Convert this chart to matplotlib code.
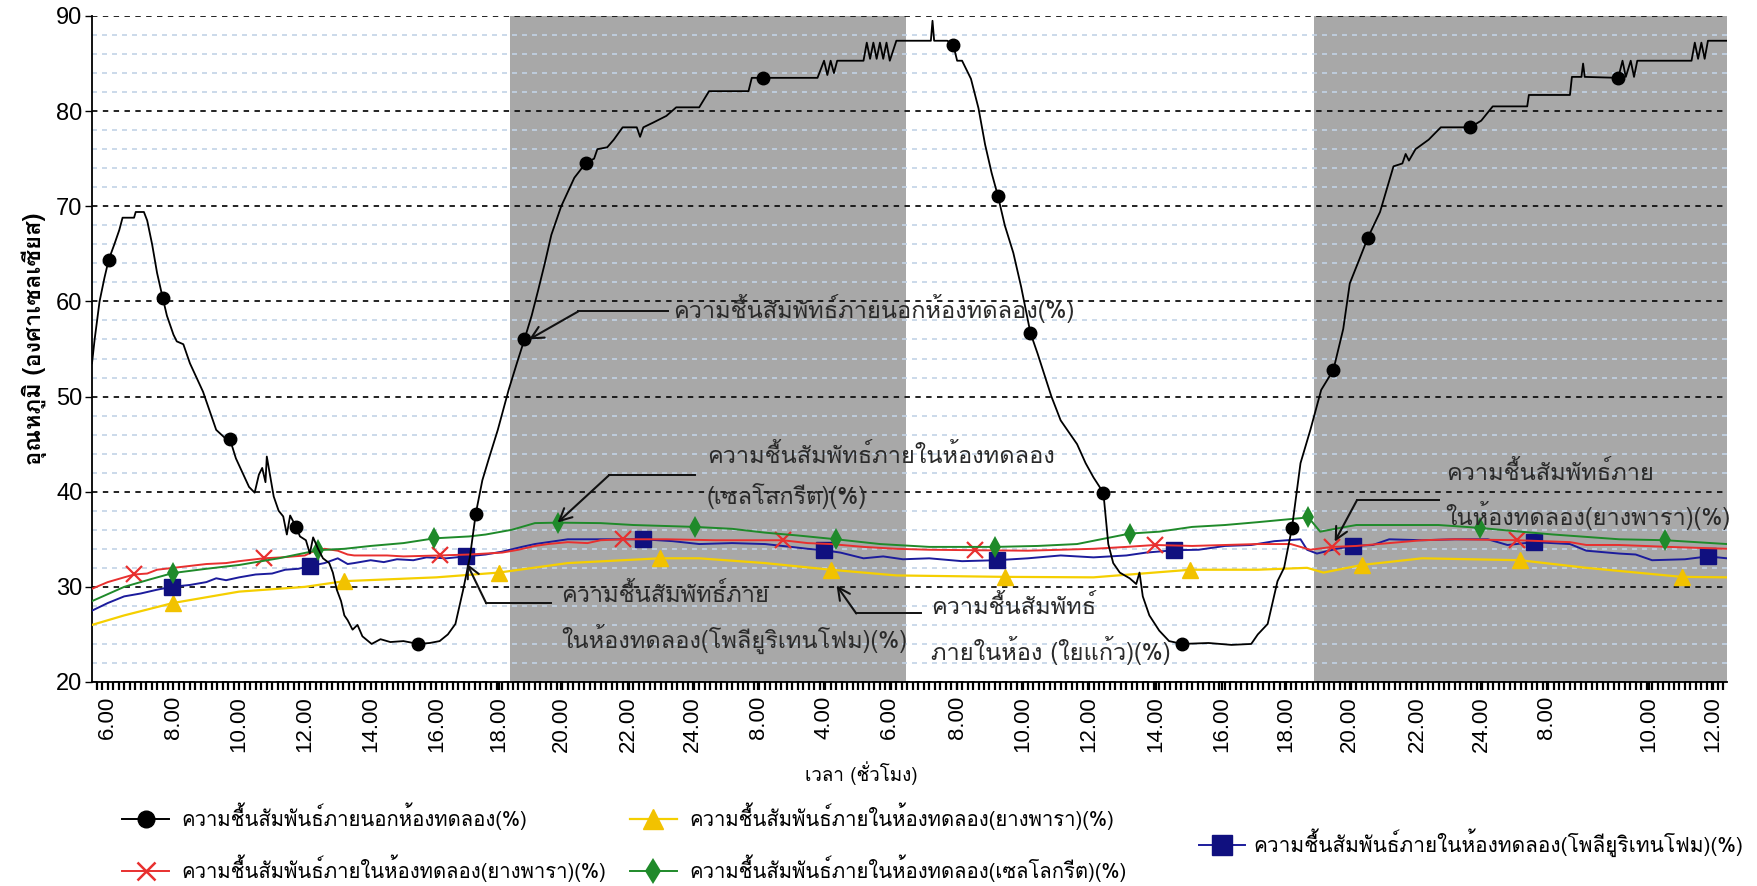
import numpy as np
import matplotlib
matplotlib.use("Agg")
import matplotlib.pyplot as plt
from matplotlib import font_manager
from matplotlib.ft2font import FT2Font
from matplotlib.lines import Line2D
from matplotlib.ticker import MultipleLocator, FixedLocator

# ---------------------------------------------------------------- fonts
def find_thai_family():
    for f in font_manager.fontManager.ttflist:
        try:
            if 0x0E04 in FT2Font(f.fname).get_charmap():
                return f.name
        except Exception:
            pass
    return None

THAI = find_thai_family()
FAMILY = [THAI, "Liberation Sans", "DejaVu Sans"] if THAI else ["Liberation Sans", "DejaVu Sans"]
plt.rcParams["font.family"] = FAMILY

# ---------------------------------------------------------------- data
# time axis in hours counted from midnight of the first day
tick_pos = [6.0, 8.0, 10.0, 12.0, 14.0, 16.0, 17.9, 19.8, 21.85, 23.8, 25.8, 27.8,
            29.8, 31.85, 33.85, 35.85, 37.9, 39.9, 41.85, 43.8, 45.85, 47.8,
            49.8, 52.9, 54.85]
tick_labels = ["6.00", "8.00", "10.00", "12.00", "14.00", "16.00", "18.00", "20.00",
               "22.00", "24.00", "8.00", "4.00", "6.00", "8.00", "10.00", "12.00",
               "14.00", "16.00", "18.00", "20.00", "22.00", "24.00", "8.00",
               "10.00", "12.00"]
night_spans = [(18.25, 30.3), (42.72, 55.3)]

# outside relative humidity (%)
out_t = [5.52, 5.6, 5.75, 5.9, 6.03, 6.2, 6.35, 6.45, 6.8, 6.85, 7.1, 7.2, 7.35, 7.5,
         7.67, 7.8, 8.0, 8.1, 8.3, 8.5, 8.7, 8.9, 9.1, 9.3, 9.55, 9.72, 9.9, 10.1,
         10.3, 10.47, 10.6, 10.7, 10.8, 10.84, 10.95, 11.05, 11.2, 11.34, 11.45,
         11.55, 11.73, 11.85, 12.03, 12.15, 12.25, 12.4, 12.55, 12.74, 12.85, 12.97,
         13.1, 13.2, 13.3, 13.45, 13.6, 13.75, 14.03, 14.3, 14.6, 15.0, 15.45, 15.8,
         16.1, 16.35, 16.58, 16.81, 17.02, 17.2, 17.4, 17.6, 17.87, 18.2, 18.45,
         18.68, 18.9, 19.1, 19.3, 19.5, 19.8, 20.0, 20.2, 20.56, 20.8, 20.9, 21.2,
         21.4, 21.67, 22.1, 22.2, 22.3, 22.6, 23.0, 23.3, 24.0, 24.3, 25.5, 25.6,
         25.93, 27.6, 27.8, 27.9, 28.0, 28.1, 28.2, 29.0, 29.1, 29.2, 29.3, 29.4,
         29.5, 29.6, 29.7, 29.8, 30.0, 31.05, 31.1, 31.15, 31.55, 31.73, 31.85, 32.0,
         32.27, 32.5, 32.7, 32.9, 33.09, 33.3, 33.56, 33.8, 34.08, 34.3, 34.72, 35.0,
         35.2, 35.5, 35.76, 36.0, 36.3, 36.45, 36.6, 36.8, 37.1, 37.3, 37.4, 37.5,
         37.7, 38.0, 38.3, 38.7, 39.5, 40.2, 40.8, 41.0, 41.3, 41.6, 41.8, 42.04,
         42.3, 42.6, 42.93, 43.3, 43.6, 43.8, 44.1, 44.35, 44.72, 44.9, 45.13, 45.4,
         45.5, 45.6, 45.8, 46.2, 46.57, 47.47, 47.8, 48.15, 49.2, 49.25, 50.5, 50.56,
         50.85, 50.9, 50.95, 51.97, 52.1, 52.2, 52.35, 52.45, 52.55, 54.2, 54.3,
         54.4, 54.5, 54.6, 54.7, 55.28]
out_rh = [53.5, 56.0, 60.0, 62.5, 64.4, 66.0, 67.5, 68.8, 68.8, 69.4, 69.4, 68.5, 66.0,
          63.0, 60.4, 58.5, 56.5, 55.8, 55.5, 53.5, 52.0, 50.5, 48.5, 46.5, 45.7, 45.5,
          43.5, 42.0, 40.5, 39.9, 41.8, 42.5, 41.0, 43.7, 41.5, 39.5, 38.0, 37.4, 35.5,
          37.5, 36.3, 35.3, 34.9, 33.5, 35.2, 34.0, 33.0, 32.5, 31.5, 29.7, 28.5, 27.0,
          26.5, 25.5, 26.0, 24.8, 24.0, 24.5, 24.2, 24.3, 24.0, 24.1, 24.3, 25.0, 26.1,
          29.6, 33.1, 37.7, 41.2, 43.5, 46.5, 50.7, 53.5, 56.0, 58.5, 61.2, 64.0, 67.0,
          70.0, 71.5, 73.0, 74.6, 75.0, 76.0, 76.2, 77.0, 78.3, 78.3, 77.3, 78.3, 78.8,
          79.5, 80.4, 80.4, 82.1, 82.1, 83.5, 83.5, 83.5, 85.3, 83.8, 85.3, 84.0, 85.3,
          85.3, 87.2, 85.5, 87.2, 85.5, 87.2, 85.5, 87.2, 85.3, 87.4, 87.4, 89.5, 87.4,
          87.4, 87.0, 85.3, 85.3, 83.4, 80.3, 76.5, 73.5, 71.1, 68.0, 65.1, 61.5, 56.7,
          54.5, 50.0, 47.5, 46.5, 45.0, 43.0, 41.5, 39.9, 34.5, 32.5, 31.5, 30.9, 30.3,
          31.5, 29.0, 27.0, 25.4, 24.3, 24.0, 24.1, 23.9, 24.0, 25.0, 26.1, 30.6, 32.0,
          36.2, 43.0, 46.5, 50.7, 52.8, 57.1, 61.9, 64.5, 66.7, 69.4, 71.5, 74.2, 74.5,
          75.5, 74.8, 76.0, 77.0, 78.3, 78.3, 79.0, 80.5, 80.5, 81.7, 81.7, 83.6, 83.6,
          85.0, 83.6, 83.5, 85.3, 83.6, 85.3, 83.6, 85.3, 85.3, 87.2, 85.5, 87.2, 85.5,
          87.4, 87.4]
out_mark_t = [6.03, 7.67, 9.72, 11.73, 15.45, 17.2, 18.68, 20.56, 25.93, 31.73, 33.09,
              34.08, 36.3, 38.7, 42.04, 43.3, 44.35, 47.47, 51.97]

# inside, rubber wood (%)
rub_t = [5.52, 6.0, 6.3, 6.8, 7.2, 7.5, 8.0, 8.5, 9.0, 9.6, 10.0, 10.74, 11.3, 12.0,
         12.3, 12.6, 13.0, 13.3, 13.5, 14.5, 15.0, 16.1, 17.0, 18.0, 18.5, 19.0, 19.4,
         20.0, 20.6, 21.0, 21.67, 23.0, 24.5, 26.54, 27.3, 28.0, 29.0, 30.0, 31.0,
         32.4, 34.0, 35.0, 36.0, 37.0, 37.87, 39.0, 40.0, 41.0, 42.0, 42.6, 43.27,
         44.0, 45.0, 46.0, 47.0, 48.9, 50.5, 51.0, 52.0, 53.5, 55.28]
rub_rh = [29.8, 30.5, 30.8, 31.3, 31.4, 31.8, 32.0, 32.2, 32.4, 32.5, 32.7, 33.0, 33.1,
          33.3, 33.8, 34.0, 33.8, 33.4, 33.3, 33.3, 33.2, 33.3, 33.4, 33.6, 33.9, 34.3,
          34.5, 34.7, 34.6, 34.9, 35.0, 35.0, 34.9, 34.9, 34.6, 34.5, 34.2, 34.0, 33.9,
          33.85, 33.8, 33.9, 34.0, 34.2, 34.4, 34.3, 34.4, 34.5, 34.5, 33.9, 34.2, 34.3,
          34.6, 34.9, 35.0, 34.9, 34.7, 34.4, 34.4, 34.2, 34.0]
rub_mark_t = [6.8, 10.74, 16.1, 21.67, 26.54, 32.4, 37.87, 43.27, 48.9]

# inside, cellocrete (%)
cel_t = [5.52, 6.5, 7.3, 7.98, 9.0, 10.0, 11.2, 12.4, 13.2, 14.0, 15.0, 15.94, 17.0,
         17.5, 18.3, 19.0, 19.7, 21.0, 22.0, 23.88, 25.0, 26.0, 27.0, 28.17, 29.5,
         31.0, 33.0, 34.3, 35.5, 37.1, 38.0, 39.0, 40.0, 41.0, 42.54, 42.9, 43.5, 44.0,
         46.5, 47.75, 49.0, 50.0, 52.0, 53.4, 55.28]
cel_rh = [28.5, 30.0, 30.8, 31.45, 31.9, 32.3, 33.0, 33.85, 34.0, 34.3, 34.6, 35.1,
          35.3, 35.5, 36.0, 36.7, 36.75, 36.7, 36.5, 36.3, 36.1, 35.7, 35.4, 35.0, 34.5,
          34.2, 34.2, 34.3, 34.5, 35.6, 35.8, 36.3, 36.5, 36.8, 37.3, 35.8, 36.2, 36.5,
          36.5, 36.2, 35.8, 35.5, 35.0, 34.9, 34.5]
cel_mark_t = [7.98, 12.4, 15.94, 19.7, 23.88, 28.17, 33.0, 37.1, 42.54, 47.75, 53.4]

# inside, polyurethane foam (%)
pu_t = [5.52, 6.0, 6.5, 7.0, 7.5, 7.94, 8.5, 9.0, 9.3, 9.6, 10.0, 10.5, 11.0, 11.4,
        11.8, 12.16, 12.6, 13.0, 13.3, 13.5, 14.0, 14.4, 14.8, 15.3, 15.7, 16.3, 16.9,
        17.5, 18.0, 18.6, 19.0, 19.6, 20.0, 21.0, 22.28, 23.2, 24.0, 25.0, 26.0, 26.8,
        27.3, 27.8, 28.3, 29.0, 29.6, 30.2, 31.0, 32.0, 33.05, 34.0, 35.0, 36.0, 37.0,
        37.6, 38.46, 39.2, 40.0, 40.8, 41.5, 42.3, 42.5, 42.8, 43.4, 43.9, 44.5, 45.0,
        46.0, 47.0, 48.0, 48.6, 49.4, 50.5, 51.0, 52.0, 52.5, 53.0, 54.0, 54.7, 55.28]
pu_rh = [27.5, 28.3, 29.0, 29.3, 29.7, 30.0, 30.2, 30.5, 30.9, 30.7, 31.0, 31.3, 31.4,
         31.8, 31.9, 32.2, 32.5, 33.0, 32.4, 32.5, 32.8, 32.6, 32.9, 32.8, 33.1, 33.0,
         33.2, 33.4, 33.7, 34.2, 34.5, 34.8, 35.0, 35.0, 35.0, 34.8, 34.5, 34.6, 34.5,
         34.2, 34.0, 33.85, 33.6, 33.0, 33.2, 32.9, 33.0, 32.7, 32.8, 33.0, 33.3, 33.1,
         33.3, 33.6, 33.85, 33.9, 34.3, 34.4, 34.8, 35.0, 33.9, 33.5, 34.0, 34.3, 34.4,
         35.0, 34.9, 35.0, 35.0, 34.4, 34.7, 34.5, 33.8, 33.5, 33.4, 32.8, 32.9, 33.2,
         33.0]
pu_mark_t = [7.94, 12.16, 16.9, 22.28, 27.8, 33.05, 38.46, 43.9, 49.4, 54.7]

# inside, glass wool (%)
gw_t = [5.52, 6.5, 7.98, 10.0, 12.0, 13.2, 16.0, 17.9, 20.0, 22.8, 24.0, 26.0, 28.0,
        30.0, 33.3, 36.0, 38.95, 41.0, 42.5, 43.0, 44.16, 46.0, 48.98, 51.0, 53.9, 55.28]
gw_rh = [26.0, 27.0, 28.3, 29.5, 30.0, 30.6, 31.0, 31.5, 32.5, 33.0, 33.0, 32.5, 31.8,
         31.2, 31.05, 31.0, 31.8, 31.8, 32.0, 31.5, 32.3, 33.0, 32.8, 32.0, 31.05, 31.0]
gw_mark_t = [7.98, 13.2, 17.9, 22.8, 28.0, 33.3, 38.95, 44.16, 48.98, 53.9]

legend_labels = [
    "ความชื้นสัมพันธ์ภายนอกห้องทดลอง(%)",
    "ความชื้นสัมพันธ์ภายในห้องทดลอง(ยางพารา)(%)",
    "ความชื้นสัมพันธ์ภายในห้องทดลอง(ยางพารา)(%)",
    "ความชื้นสัมพันธ์ภายในห้องทดลอง(เซลโลกรีต)(%)",
    "ความชื้นสัมพันธ์ภายในห้องทดลอง(โพลียูริเทนโฟม)(%)",
]

# ---------------------------------------------------------------- styles
C_OUT = "#000000"
C_RUB = "#e8302f"
C_CEL = "#1f8a2a"
C_PU = "#1c1c9c"
C_GW = "#f5cf00"

fig = plt.figure(figsize=(17.58, 8.86), dpi=100)
ax = fig.add_axes([92 / 1758, 1 - 682 / 886, (1727 - 92) / 1758, (682 - 16) / 886])

for a, b in night_spans:
    ax.axvspan(a, b, color="#a8a8a8", zorder=0, lw=0)


def idx_of(ts, marks):
    ts = np.asarray(ts)
    return [int(np.argmin(np.abs(ts - m))) for m in marks]


ax.plot(gw_t, gw_rh, color=C_GW, lw=1.6, zorder=3, marker="^", ms=12,
        markevery=idx_of(gw_t, gw_mark_t), mfc="#f2c200", mec="#f2c200")
ax.plot(pu_t, pu_rh, color=C_PU, lw=1.4, zorder=4, marker="s", ms=11,
        markevery=idx_of(pu_t, pu_mark_t), mfc="#10107f", mec="#10107f")
ax.plot(rub_t, rub_rh, color=C_RUB, lw=1.4, zorder=4, marker="x", ms=11, mew=1.6,
        markevery=idx_of(rub_t, rub_mark_t))
ax.plot(cel_t, cel_rh, color=C_CEL, lw=1.4, zorder=4, marker="d", ms=11, mew=0,
        markevery=idx_of(cel_t, cel_mark_t))
ax.plot(out_t, out_rh, color=C_OUT, lw=1.3, zorder=5, marker="o", ms=9,
        markevery=idx_of(out_t, out_mark_t))

# ---------------------------------------------------------------- axes
ax.set_xlim(5.52, 55.28)
ax.set_ylim(20, 90)
ax.yaxis.set_major_locator(MultipleLocator(10))
ax.yaxis.set_minor_locator(MultipleLocator(2))
ax.xaxis.set_major_locator(FixedLocator(tick_pos))
ax.set_xticklabels(tick_labels, rotation=90, fontsize=16, family=["Liberation Sans"])
ax.xaxis.set_minor_locator(MultipleLocator(1 / 6))
ax.tick_params(axis="x", which="both", length=6, width=1.6, direction="out", pad=4)
ax.tick_params(axis="y", which="major", length=5, width=1.0, labelsize=17, pad=2)
ax.tick_params(axis="y", which="minor", length=0)
for lab in ax.get_yticklabels():
    lab.set_family(["Liberation Sans"])

ax.set_axisbelow(True)
ax.grid(axis="y", which="major", color="#111111", ls=(0, (3, 3)), lw=1.3)
ax.grid(axis="y", which="minor", color="#c2d3e6", ls=(0, (3, 3)), lw=1.2)
ax.grid(axis="x", which="both", visible=False)
for s in ("top", "right"):
    ax.spines[s].set_visible(False)
ax.spines["left"].set_linewidth(1.3)
ax.spines["bottom"].set_linewidth(1.3)
ax.set_facecolor("white")

fig.text(0.0195, 1 - 339 / 886, "อุณหภูมิ (องศาเซลเซียส)", rotation=90,
         ha="center", va="center", fontsize=17, fontweight="bold")
fig.text(861 / 1758, 1 - 773 / 886, "เวลา (ชั่วโมง)", ha="center", va="center",
         fontsize=13.5)

# ---------------------------------------------------------------- callouts
ANN_KW = dict(fontsize=17, color="#2a2a2a", zorder=8)
ARROW = dict(arrowstyle="->", color="#111111", lw=1.5, mutation_scale=22,
             shrinkA=0, shrinkB=0)
callouts = [
    # (head, elbow, end of leader, text anchor, text)
    ((18.82, 56.0), (20.32, 58.95), 23.06, (23.2, 59.3),
     "ความชื้นสัมพัทธ์ภายนอกห้องทดลอง(%)"),
    ((19.69, 36.76), (21.26, 41.75), 23.88, (24.23, 41.6),
     "ความชื้นสัมพัทธ์ภายในห้องทดลอง\n(เซลโลกรีต)(%)"),
    ((16.93, 32.45), (17.52, 28.26), 19.5, (19.79, 26.7),
     "ความชื้นสัมพัทธ์ภาย\nในห้องทดลอง(โพลียูริเทนโฟม)(%)"),
    ((28.18, 30.15), (28.78, 27.2), 30.76, (31.05, 25.5),
     "ความชื้นสัมพัทธ์\nภายในห้อง (ใยแก้ว)(%)"),
    ((43.34, 34.75), (44.02, 39.12), 46.5, (46.72, 39.6),
     "ความชื้นสัมพัทธ์ภาย\nในห้องทดลอง(ยางพารา)(%)"),
]
for head, elbow, lead_end, txt_xy, txt in callouts:
    ax.plot([elbow[0], lead_end], [elbow[1], elbow[1]], color="#111111", lw=1.4,
            zorder=8)
    ax.annotate("", xy=head, xytext=elbow, arrowprops=ARROW, zorder=8)
    ax.text(txt_xy[0], txt_xy[1], txt, ha="left", va="center", linespacing=1.7,
            **ANN_KW)

# ---------------------------------------------------------------- legend
h_out = Line2D([], [], color=C_OUT, lw=1.4, marker="o", ms=12)
h_rub = Line2D([], [], color=C_RUB, lw=1.4, marker="x", ms=13, mew=1.8)
h_gw = Line2D([], [], color=C_GW, lw=1.6, marker="^", ms=14, mfc="#f2c200",
              mec="#f2c200")
h_cel = Line2D([], [], color=C_CEL, lw=1.4, marker="d", ms=13, mew=0)
h_pu = Line2D([], [], color=C_PU, lw=1.4, marker="s", ms=14, mfc="#10107f",
              mec="#10107f")

leg1 = fig.legend([h_out, h_rub, h_gw, h_cel], legend_labels[:4], ncol=2,
                  loc="center left", bbox_to_anchor=(104 / 1758, 1 - 842 / 886),
                  frameon=False, fontsize=14.6, handlelength=2.3, handletextpad=0.6,
                  columnspacing=1.2, labelspacing=1.2)
leg2 = fig.legend([h_pu], legend_labels[4:], loc="center left",
                  bbox_to_anchor=(1180 / 1758, 1 - 843 / 886), frameon=False,
                  fontsize=15, handlelength=2.2, handletextpad=0.4)

fig.savefig("out.png", dpi=100)
